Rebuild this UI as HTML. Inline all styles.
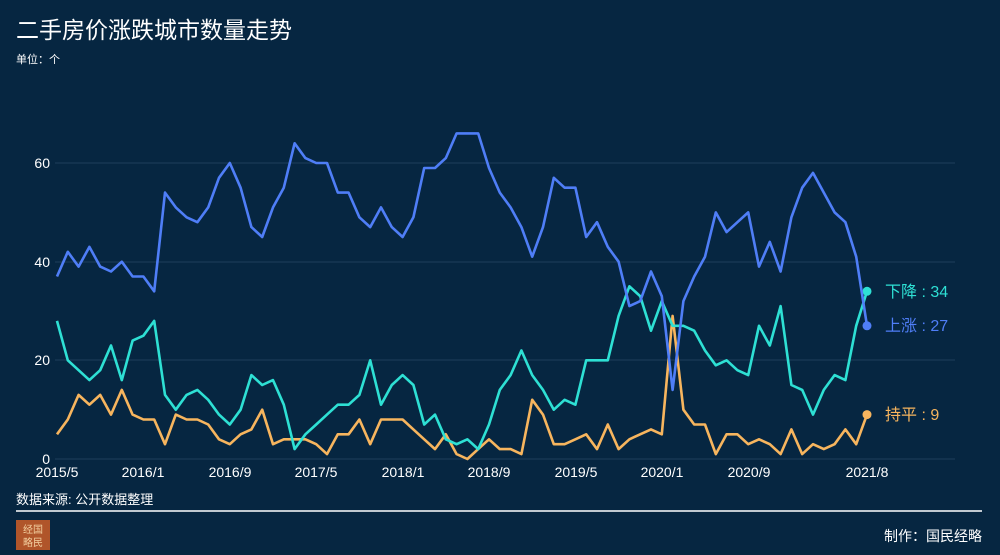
<!DOCTYPE html>
<html><head><meta charset="utf-8"><style>
html,body{margin:0;padding:0;background:#062641;}
body{width:1000px;height:555px;overflow:hidden;font-family:"Liberation Sans","Noto Sans CJK SC",sans-serif;}
</style></head><body>
<svg id="s" width="1000" height="555" xmlns="http://www.w3.org/2000/svg" style="display:block">
<rect width="1000" height="555" fill="#062641"/>
<text x="16" y="38" fill="#ffffff" font-size="23" font-family="Liberation Sans,Noto Sans CJK SC,sans-serif">二手房价涨跌城市数量走势</text>
<text x="16" y="63" fill="#ffffff" font-size="11" font-family="Liberation Sans,Noto Sans CJK SC,sans-serif">单位：个</text>
<g stroke="#1d3d5a" stroke-width="1">
<line x1="55" x2="955" y1="163" y2="163"/>
<line x1="55" x2="955" y1="262" y2="262"/>
<line x1="55" x2="955" y1="360" y2="360"/>
<line x1="55" x2="955" y1="459" y2="459"/>
</g>
<g fill="#ffffff" font-size="14" text-anchor="end" font-family="Liberation Sans,sans-serif">
<text x="50" y="168">60</text><text x="50" y="267">40</text><text x="50" y="365">20</text><text x="50" y="464">0</text>
</g>
<g fill="#ffffff" font-size="14" text-anchor="middle" font-family="Liberation Sans,sans-serif">
<text x="57" y="477">2015/5</text><text x="143" y="477">2016/1</text><text x="230" y="477">2016/9</text><text x="316" y="477">2017/5</text><text x="403" y="477">2018/1</text><text x="489" y="477">2018/9</text><text x="576" y="477">2019/5</text><text x="662" y="477">2020/1</text><text x="749" y="477">2020/9</text><text x="867" y="477">2021/8</text>
</g>
<g id="lines"></g>
<text x="885" y="297" fill="#2ee0d4" font-size="16" font-family="Liberation Sans,Noto Sans CJK SC,sans-serif">下降 : 34</text>
<text x="885" y="331" fill="#4f7ef7" font-size="16" font-family="Liberation Sans,Noto Sans CJK SC,sans-serif">上涨 : 27</text>
<text x="885" y="420" fill="#f7b55e" font-size="16" font-family="Liberation Sans,Noto Sans CJK SC,sans-serif">持平 : 9</text>
<text x="16" y="504" fill="#ffffff" font-size="13" font-family="Liberation Sans,Noto Sans CJK SC,sans-serif">数据来源: 公开数据整理</text>
<line x1="16" x2="982" y1="511" y2="511" stroke="#ffffff" stroke-width="1.5"/>
<rect x="16" y="520" width="34" height="30" fill="#b0552a"/>
<text x="33" y="533" fill="#f3d0a0" font-size="10" text-anchor="middle" font-family="Noto Sans CJK SC,sans-serif">经国</text>
<text x="33" y="546" fill="#f3d0a0" font-size="10" text-anchor="middle" font-family="Noto Sans CJK SC,sans-serif">略民</text>
<text x="982" y="541" fill="#ffffff" font-size="14" text-anchor="end" font-family="Liberation Sans,Noto Sans CJK SC,sans-serif">制作：国民经略</text>
</svg>
<script>
var up=[37,42,39,43,39,38,40,37,37,34,54,51,49,48,51,57,60,55,47,45,51,55,64,61,60,60,54,54,49,47,51,47,45,49,59,59,61,66,66,66,59,54,51,47,41,47,57,55,55,45,48,43,40,31,32,38,33,14,32,37,41,50,46,48,50,39,44,38,49,55,58,54,50,48,41,27];
var dn=[28,20,18,16,18,23,16,24,25,28,13,10,13,14,12,9,7,10,17,15,16,11,2,5,7,9,11,11,13,20,11,15,17,15,7,9,4,3,4,2,7,14,17,22,17,14,10,12,11,20,20,20,29,35,33,26,32,27,27,26,22,19,20,18,17,27,23,31,15,14,9,14,17,16,27,34];
var fl=[5,8,13,11,13,9,14,9,8,8,3,9,8,8,7,4,3,5,6,10,3,4,4,4,3,1,5,5,8,3,8,8,8,6,4,2,5,1,0,2,4,2,2,1,12,9,3,3,4,5,2,7,2,4,5,6,5,29,10,7,7,1,5,5,3,4,3,1,6,1,3,2,3,6,3,9];
var g=document.getElementById('lines'),ns='http://www.w3.org/2000/svg';
function X(i){return 57+i*(810/75);}function Y(v){return 459-v*4.933;}
[[fl,'#f7b55e'],[dn,'#2ee0d4'],[up,'#4f7ef7']].forEach(function(s){
var p=document.createElementNS(ns,'polyline');
p.setAttribute('points',s[0].map(function(v,i){return X(i).toFixed(1)+','+Y(v).toFixed(1)}).join(' '));
p.setAttribute('fill','none');p.setAttribute('stroke',s[1]);p.setAttribute('stroke-width','2.6');p.setAttribute('stroke-linejoin','round');
g.appendChild(p);
var c=document.createElementNS(ns,'circle');c.setAttribute('cx',X(75));c.setAttribute('cy',Y(s[0][75]));c.setAttribute('r','4.5');c.setAttribute('fill',s[1]);g.appendChild(c);
});
</script>
</body></html>
